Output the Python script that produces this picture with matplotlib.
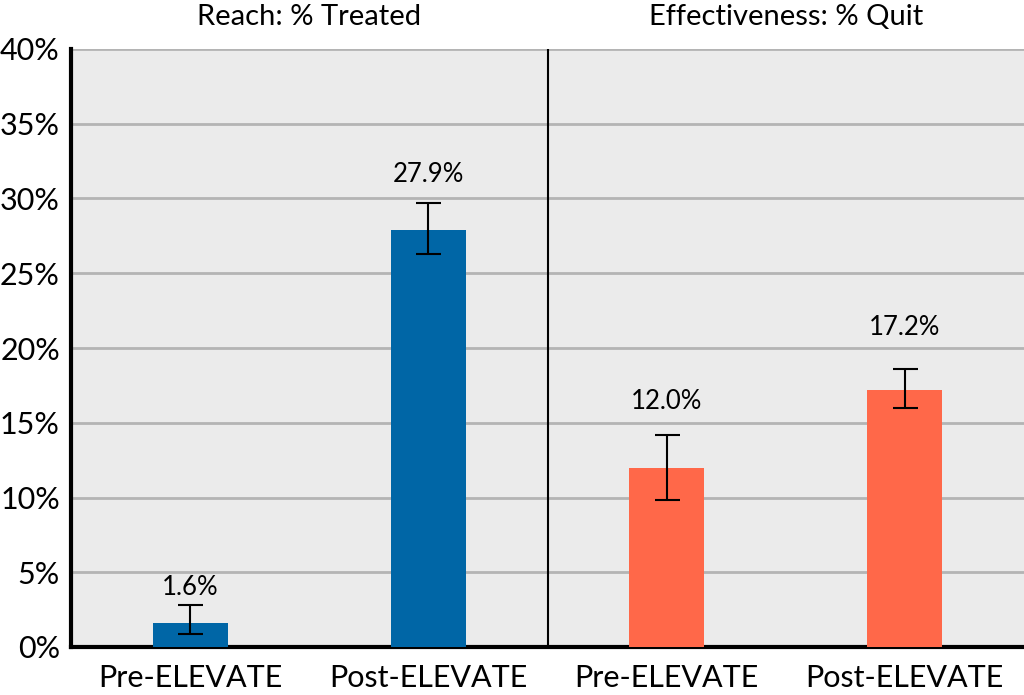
import matplotlib.pyplot as plt
from matplotlib.ticker import PercentFormatter

plt.rcParams['font.family'] = ['Lato', 'DejaVu Sans']

# data
groups = ["Reach: % Treated", "Effectiveness: % Quit"]
categories = ["Pre-ELEVATE", "Post-ELEVATE", "Pre-ELEVATE", "Post-ELEVATE"]
values = [1.6, 27.9, 12.0, 17.2]
err_low = [0.9, 26.3, 9.8, 16.0]
err_high = [2.8, 29.7, 14.2, 18.6]
colors = ["#0066A6", "#0066A6", "#FF6849", "#FF6849"]

# baseline heights of the value labels (as placed in the original)
label_y = [3.5, 31.1, 15.9, 20.9]

fig = plt.figure(figsize=(10.24, 6.95), dpi=100)
ax = fig.add_axes([71 / 1024, 1 - 647 / 695, 953 / 1024, 598 / 695])
ax.set_facecolor("#EBEBEB")

x = list(range(len(values)))
yerr = [[v - lo for v, lo in zip(values, err_low)],
        [hi - v for v, hi in zip(values, err_high)]]
ax.bar(x, values, width=0.315, color=colors, zorder=3)
ax.errorbar(x, values, yerr=yerr, fmt="none", ecolor="black",
            elinewidth=1.5, capsize=9, capthick=1.5, zorder=4)

# value labels
for xi, v, ly in zip(x, values, label_y):
    ax.text(xi, ly, f"{v:.1f}%", ha="center", va="baseline", fontsize=18.5)

# divider between the two panels
ax.axvline(1.5, color="black", lw=1.5, zorder=2)

# panel titles
for i, g in enumerate(groups):
    ax.text(0.5 + 2 * i, 41.6, g, ha="center", va="baseline", fontsize=21)

ax.set_xlim(-0.5, 3.5)
ax.set_ylim(0, 40)
ax.set_yticks(range(0, 41, 5))
ax.yaxis.set_major_formatter(PercentFormatter(decimals=0))
ax.set_xticks(x)
ax.set_xticklabels(categories)
ax.tick_params(axis="both", length=0, labelsize=22)
ax.tick_params(axis="x", pad=12)
ax.tick_params(axis="y", pad=8)
ax.grid(axis="y", color="#B4B4B4", lw=2, zorder=1)
ax.set_axisbelow(True)

for s in ["top", "right"]:
    ax.spines[s].set_visible(False)
ax.spines["left"].set_linewidth(3)
ax.spines["bottom"].set_linewidth(3)

fig.savefig("out.png", dpi=100)
